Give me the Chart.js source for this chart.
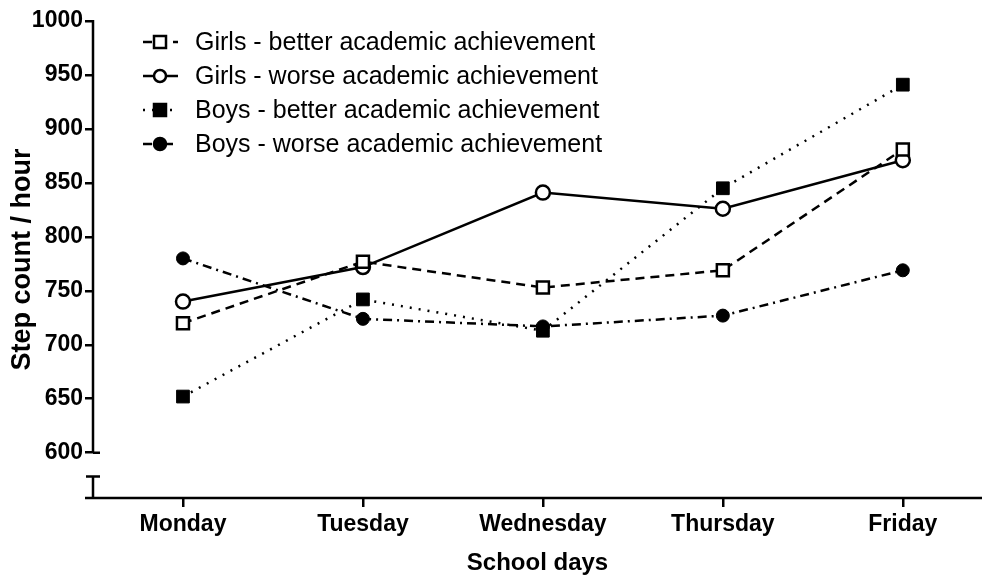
<!DOCTYPE html>
<html>
<head>
<meta charset="utf-8">
<script src="https://cdn.jsdelivr.net/npm/chart.js@4.4.1/dist/chart.umd.min.js"></script>
<style>
  html, body { margin: 0; padding: 0; background: #fff; }
</style>
</head>
<body>
<canvas id="stepChart" width="982" height="575"></canvas>
<script>
// categories and values
const days = ['Monday', 'Tuesday', 'Wednesday', 'Thursday', 'Friday'];
const girlsBetter = [720, 777, 753, 769, 881];
const girlsWorse = [740, 772, 841, 826, 871];
const boysBetter = [652, 742, 713, 845, 941];
const boysWorse = [780, 724, 717, 727, 769];
const yTicks = [600, 650, 700, 750, 800, 850, 900, 950, 1000];

const FONT = '"Liberation Sans", Arial, sans-serif';
const toPts = arr => arr.map((v, i) => ({ x: i, y: v }));

// axis lines with the break between 600 and the bottom stub
const axisPlugin = {
  id: 'brokenAxis',
  afterDraw(chart) {
    const { ctx, scales } = chart;
    const xs = scales.x, ys = scales.y;
    const x0 = xs.left;
    const yTop = ys.getPixelForValue(1000);
    const y600 = ys.getPixelForValue(600);
    const yStub = ys.getPixelForValue(578);
    const yBot = ys.bottom;
    ctx.save();
    ctx.strokeStyle = '#000';
    ctx.lineWidth = 2.5;
    ctx.beginPath();
    ctx.moveTo(x0, yTop - 1); ctx.lineTo(x0, y600);
    ctx.moveTo(x0, y600); ctx.lineTo(x0 + 7, y600);
    ctx.moveTo(x0 - 7, yStub); ctx.lineTo(x0 + 7, yStub);
    ctx.moveTo(x0, yStub); ctx.lineTo(x0, yBot);
    ctx.moveTo(x0 - 8, yBot); ctx.lineTo(chart.width, yBot);
    ctx.stroke();
    ctx.restore();
  }
};

// legend: line segment + marker + text
const legendPlugin = {
  id: 'lineLegend',
  afterDraw(chart) {
    const ctx = chart.ctx;
    ctx.save();
    chart.data.datasets.forEach((ds, i) => {
      const cy = 42 + i * 34;
      ctx.strokeStyle = '#000';
      ctx.lineWidth = 2.5;
      ctx.setLineDash(ds.borderDash || []);
      ctx.beginPath();
      ctx.moveTo(143, cy); ctx.lineTo(178, cy);
      ctx.stroke();
      ctx.setLineDash([]);
      ctx.fillStyle = ds.pointBackgroundColor;
      ctx.lineWidth = 2.5;
      if (ds.pointStyle === 'rect') {
        const s = 6;
        ctx.fillRect(160 - s, cy - s, 2 * s, 2 * s);
        ctx.strokeRect(160 - s, cy - s, 2 * s, 2 * s);
      } else {
        ctx.beginPath();
        ctx.arc(160, cy, 6, 0, Math.PI * 2);
        ctx.fill(); ctx.stroke();
      }
      ctx.fillStyle = '#000';
      ctx.font = '25px ' + FONT;
      ctx.textBaseline = 'middle';
      ctx.fillText(ds.label, 195, cy + 1);
    });
    ctx.restore();
  }
};

new Chart(document.getElementById('stepChart'), {
  type: 'line',
  data: {
    datasets: [
      {
        label: 'Girls - better academic achievement',
        data: toPts(girlsBetter),
        borderColor: '#000', borderWidth: 2.5, borderDash: [9, 6],
        pointStyle: 'rect', pointRadius: 8.5, pointBorderWidth: 2.5,
        pointBackgroundColor: '#fff', pointBorderColor: '#000'
      },
      {
        label: 'Girls - worse academic achievement',
        data: toPts(girlsWorse),
        borderColor: '#000', borderWidth: 2.5, borderDash: [],
        pointStyle: 'circle', pointRadius: 7, pointBorderWidth: 2.5,
        pointBackgroundColor: '#fff', pointBorderColor: '#000'
      },
      {
        label: 'Boys - better academic achievement',
        data: toPts(boysBetter),
        borderColor: '#000', borderWidth: 2.5, borderDash: [2, 7],
        pointStyle: 'rect', pointRadius: 9, pointBorderWidth: 1,
        pointBackgroundColor: '#000', pointBorderColor: '#000'
      },
      {
        label: 'Boys - worse academic achievement',
        data: toPts(boysWorse),
        borderColor: '#000', borderWidth: 2.5, borderDash: [9, 5, 2, 5],
        pointStyle: 'circle', pointRadius: 6.5, pointBorderWidth: 1,
        pointBackgroundColor: '#000', pointBorderColor: '#000'
      }
    ]
  },
  options: {
    responsive: false,
    animation: false,
    devicePixelRatio: 1,
    layout: { autoPadding: false, padding: { top: 21, right: 0 } },
    plugins: { legend: { display: false }, tooltip: { enabled: false } },
    scales: {
      x: {
        type: 'linear', min: -0.5, max: 4.44,
        afterBuildTicks: s => { s.ticks = days.map((d, i) => ({ value: i })); },
        afterFit: s => { s.height = 77; s.paddingLeft = 0; s.paddingRight = 0; },
        border: { display: false },
        grid: { drawOnChartArea: false, color: '#000', lineWidth: 2.5, tickLength: 9 },
        ticks: {
          color: '#000', padding: 4,
          font: { family: FONT, size: 23, weight: 'bold' },
          callback: v => days[v]
        },
        title: {
          display: true, text: 'School days', color: '#000', padding: { top: 10, bottom: -3 },
          font: { family: FONT, size: 24, weight: 'bold' }
        }
      },
      y: {
        min: 558, max: 1000,
        afterBuildTicks: s => { s.ticks = yTicks.map(v => ({ value: v })); },
        afterFit: s => { s.width = 93; s.paddingTop = 0; s.paddingBottom = 0; },
        border: { display: false },
        grid: { drawOnChartArea: false, color: '#000', lineWidth: 2.5, tickLength: 8 },
        ticks: {
          color: '#000', padding: 2,
          font: { family: FONT, size: 23, weight: 'bold' },
          callback: v => String(v)
        },
        title: {
          display: true, text: 'Step count / hour', color: '#000', padding: { top: 6, bottom: 0 },
          font: { family: FONT, size: 27, weight: 'bold' }
        }
      }
    }
  },
  plugins: [axisPlugin, legendPlugin]
});
</script>
</body>
</html>
